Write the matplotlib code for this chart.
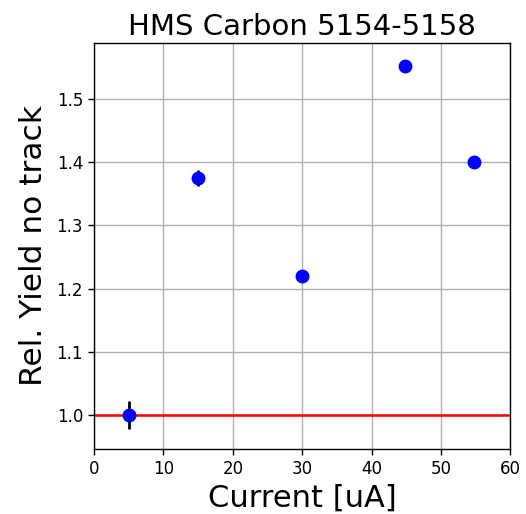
import numpy as np
import matplotlib
matplotlib.use("Agg")
import matplotlib.pyplot as plt

# beam current [uA] and relative yield (no track)
current = [5.0, 15.0, 30.0, 44.8, 54.8]
rel_yield = [1.000, 1.375, 1.220, 1.552, 1.401]
yield_err = [0.022, 0.012, 0.003, 0.003, 0.003]

fig = plt.figure(figsize=(5.26, 5.14), dpi=100)
ax = fig.add_axes([0.179, 0.1265, 0.791, 0.790])

ax.errorbar(current, rel_yield, yerr=yield_err, fmt='o', color='blue',
            ecolor='black', markersize=9, elinewidth=2, zorder=3)
ax.axhline(1.0, color='red', linewidth=1.8)

ax.set_xlim(0, 60)
ax.set_ylim(0.946, 1.589)
ax.set_yticks([1.0, 1.1, 1.2, 1.3, 1.4, 1.5])
ax.grid(True, linewidth=1.0)
ax.tick_params(labelsize=12, width=1.0, length=4.5)
for s in ax.spines.values():
    s.set_linewidth(1.0)

ax.set_title('HMS Carbon 5154-5158', fontsize=21)
ax.set_xlabel('Current [uA]', fontsize=22)
ax.set_ylabel('Rel. Yield no track', fontsize=22.5, labelpad=6)

fig.savefig('out.png', dpi=100)
